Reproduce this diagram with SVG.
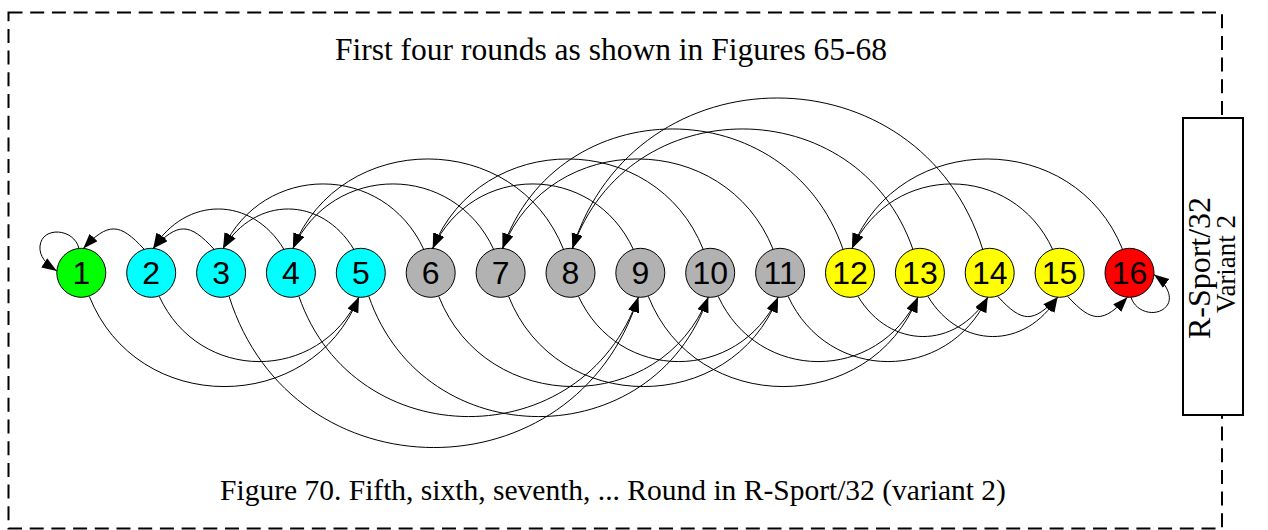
<svg xmlns="http://www.w3.org/2000/svg" width="1268" height="530" viewBox="0 0 1268 530">
<defs>
<marker id="ah" markerUnits="userSpaceOnUse" markerWidth="17" markerHeight="12" refX="15" refY="5.5" orient="auto">
<path d="M0,0 L15,5.5 L0,11 Z" fill="#000"/>
</marker>
<style>
.frame{fill:none;stroke:#000;stroke-width:2;stroke-dasharray:14 7.7}
.e{fill:none;stroke:#000;stroke-width:1;marker-end:url(#ah)}
.n circle{stroke:#000;stroke-width:1}
.n text{font-family:"Liberation Sans",Arial,sans-serif;font-size:32px;text-anchor:middle;fill:#000}
.g{fill:#00FF00}.c{fill:#00FFFF}.k{fill:#B2B2B2}.y{fill:#FFFF00}.r{fill:#FF0000}
.t{font-family:"Liberation Serif","Times New Roman",serif;fill:#000;text-anchor:middle}
</style>
</defs>
<rect width="1268" height="530" fill="#fff"/>
<rect class="frame" x="8.5" y="12.5" width="1213.5" height="516"/>
<text class="t" x="611" y="60" font-size="31.5">First four rounds as shown in Figures 65-68</text>
<text class="t" x="613" y="500" font-size="29.5">Figure 70. Fifth, sixth, seventh, ... Round in R-Sport/32 (variant 2)</text>
<g id="connectors">
<path class="e" d="M79,248.5 C74,228 42,226 40,246 C39,256 46,264 56.8,271"/>
<path class="e" d="M144.2,249.3 C119.5,222.3 108,222.3 83.3,248.4"/>
<path class="e" d="M214.1,249.3 C189.4,222.3 177.9,222.3 153.2,248.4"/>
<path class="e" d="M283.9,249.3 C251.5,195.7 185.6,195.7 153.2,248.4"/>
<path class="e" d="M353.8,249.3 C321.4,195.7 255.5,195.7 223.1,248.4"/>
<path class="e" d="M423.7,249.3 C383.6,162.3 263.2,162.3 223.1,248.4"/>
<path class="e" d="M493.6,249.3 C453.5,162.3 333,162.3 292.9,248.4"/>
<path class="e" d="M563.5,249.3 C515.7,129 340.7,129 292.9,248.4"/>
<path class="e" d="M633.3,249.3 C593.2,162.3 472.8,162.3 432.7,248.4"/>
<path class="e" d="M703.2,249.3 C655.4,129 480.5,129 432.7,248.4"/>
<path class="e" d="M773.1,249.3 C725.3,129 550.4,129 502.6,248.4"/>
<path class="e" d="M843,249.3 C787.6,89 558,89 502.6,248.4"/>
<path class="e" d="M912.9,249.3 C857.5,89 627.9,89 572.5,248.4"/>
<path class="e" d="M982.7,249.3 C919.6,47.7 635.6,47.7 572.5,248.4"/>
<path class="e" d="M1052.6,249.3 C1012.5,162.3 892.1,162.3 852,248.4"/>
<path class="e" d="M1122.5,249.3 C1074.7,129 899.8,129 852,248.4"/>
<path class="e" d="M89.3,296.3 C136.9,416.5 311.2,416.5 358.8,297.2"/>
<path class="e" d="M159.2,296.3 C199.2,383.2 318.8,383.2 358.8,297.2"/>
<path class="e" d="M229.1,296.3 C292.1,497.8 575.3,497.8 638.3,297.2"/>
<path class="e" d="M298.9,296.3 C354.2,456.5 583,456.5 638.3,297.2"/>
<path class="e" d="M368.8,296.3 C424.1,456.5 652.9,456.5 708.2,297.2"/>
<path class="e" d="M438.7,296.3 C486.3,416.5 660.6,416.5 708.2,297.2"/>
<path class="e" d="M508.6,296.3 C556.2,416.5 730.5,416.5 778.1,297.2"/>
<path class="e" d="M578.5,296.3 C618.5,383.2 738.1,383.2 778.1,297.2"/>
<path class="e" d="M648.3,296.3 C695.9,416.5 870.3,416.5 917.9,297.2"/>
<path class="e" d="M718.2,296.3 C758.2,383.2 877.9,383.2 917.9,297.2"/>
<path class="e" d="M788.1,296.3 C828.1,383.2 947.7,383.2 987.7,297.2"/>
<path class="e" d="M858,296.3 C890.3,349.8 955.4,349.8 987.7,297.2"/>
<path class="e" d="M927.9,296.3 C960.2,349.8 1025.3,349.8 1057.6,297.2"/>
<path class="e" d="M997.7,296.3 C1022.3,323.2 1033,323.2 1057.6,297.2"/>
<path class="e" d="M1067.6,296.3 C1092.2,323.2 1102.9,323.2 1127.5,297.2"/>
<path class="e" d="M1131,297.2 C1136,314 1160,318 1168,304 C1172,296 1167,284 1154,274.5"/>
</g>
<g id="node1" class="n"><circle class="g" cx="81.3" cy="272.8" r="24.5"/><text x="81.3" y="284.2">1</text></g>
<g id="node2" class="n"><circle class="c" cx="151.2" cy="272.8" r="24.5"/><text x="151.2" y="284.2">2</text></g>
<g id="node3" class="n"><circle class="c" cx="221.1" cy="272.8" r="24.5"/><text x="221.1" y="284.2">3</text></g>
<g id="node4" class="n"><circle class="c" cx="290.9" cy="272.8" r="24.5"/><text x="290.9" y="284.2">4</text></g>
<g id="node5" class="n"><circle class="c" cx="360.8" cy="272.8" r="24.5"/><text x="360.8" y="284.2">5</text></g>
<g id="node6" class="n"><circle class="k" cx="430.7" cy="272.8" r="24.5"/><text x="430.7" y="284.2">6</text></g>
<g id="node7" class="n"><circle class="k" cx="500.6" cy="272.8" r="24.5"/><text x="500.6" y="284.2">7</text></g>
<g id="node8" class="n"><circle class="k" cx="570.5" cy="272.8" r="24.5"/><text x="570.5" y="284.2">8</text></g>
<g id="node9" class="n"><circle class="k" cx="640.3" cy="272.8" r="24.5"/><text x="640.3" y="284.2">9</text></g>
<g id="node10" class="n"><circle class="k" cx="710.2" cy="272.8" r="24.5"/><text x="710.2" y="284.2">10</text></g>
<g id="node11" class="n"><circle class="k" cx="780.1" cy="272.8" r="24.5"/><text x="780.1" y="284.2">11</text></g>
<g id="node12" class="n"><circle class="y" cx="850" cy="272.8" r="24.5"/><text x="850" y="284.2">12</text></g>
<g id="node13" class="n"><circle class="y" cx="919.9" cy="272.8" r="24.5"/><text x="919.9" y="284.2">13</text></g>
<g id="node14" class="n"><circle class="y" cx="989.7" cy="272.8" r="24.5"/><text x="989.7" y="284.2">14</text></g>
<g id="node15" class="n"><circle class="y" cx="1059.6" cy="272.8" r="24.5"/><text x="1059.6" y="284.2">15</text></g>
<g id="node16" class="n"><circle class="r" cx="1129.5" cy="272.8" r="24.5"/><text x="1129.5" y="284.2">16</text></g>
<g id="label-box">
<rect x="1183" y="118" width="60" height="297" fill="#fff" stroke="#000" stroke-width="2"/>
<text class="t" font-size="32" transform="translate(1210,268) rotate(-90)">R-Sport/32</text>
<text class="t" font-size="27" transform="translate(1235,264) rotate(-90)">Variant 2</text>
</g>
</svg>
